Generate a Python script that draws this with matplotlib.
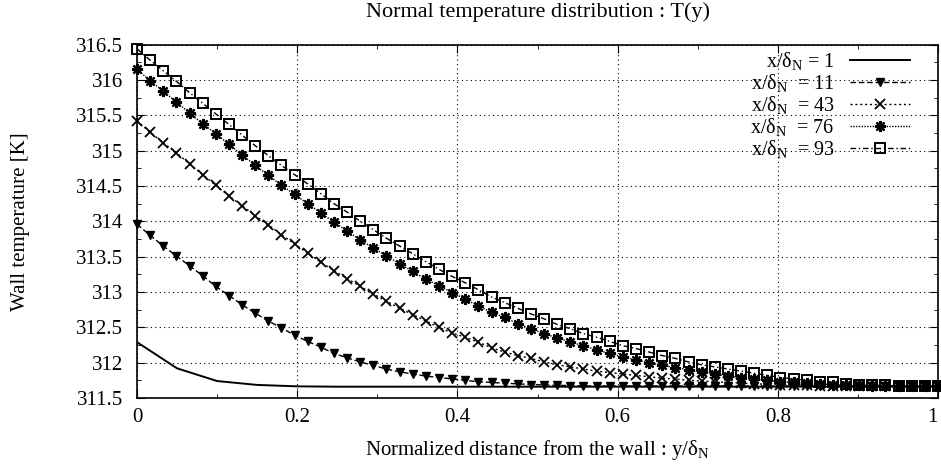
import numpy as np
import matplotlib
matplotlib.use("Agg")
import matplotlib.pyplot as plt
from matplotlib.ticker import FixedLocator, MultipleLocator, FuncFormatter

plt.rcParams['font.family'] = ['Liberation Serif', 'DejaVu Serif']
plt.rcParams['mathtext.fontset'] = 'custom'
plt.rcParams['mathtext.rm'] = 'Liberation Serif'
plt.rcParams['mathtext.it'] = 'Liberation Serif:italic'

# ---- data ----
y_fine = np.linspace(0, 1, 62)
y_coarse = np.linspace(0, 1, 21)

T_1 = [312.29, 311.92, 311.74, 311.685, 311.665, 311.66, 311.66, 311.66, 311.66, 311.66,
       311.66, 311.66, 311.66, 311.66, 311.66, 311.66, 311.66, 311.66, 311.66, 311.66, 311.66]

T_11 = [313.96, 313.80, 313.65, 313.51, 313.37, 313.23, 313.08, 312.95, 312.82, 312.70,
        312.59, 312.49, 312.39, 312.30, 312.22, 312.13, 312.07, 312.01, 311.96, 311.91,
        311.87, 311.84, 311.81, 311.79, 311.77, 311.75, 311.73, 311.72, 311.71, 311.70,
        311.69, 311.685, 311.68, 311.675, 311.67, 311.67, 311.67, 311.67, 311.67, 311.67,
        311.67, 311.67, 311.67, 311.67, 311.67, 311.67, 311.67, 311.67, 311.67, 311.67,
        311.67, 311.67, 311.665, 311.665, 311.665, 311.665, 311.665, 311.665, 311.665, 311.665,
        311.665, 311.665]

T_43 = [315.42, 315.26, 315.11, 314.97, 314.81, 314.66, 314.51, 314.36, 314.22, 314.08,
        313.95, 313.81, 313.68, 313.55, 313.42, 313.30, 313.19, 313.08, 312.97, 312.87,
        312.77, 312.68, 312.59, 312.50, 312.42, 312.36, 312.29, 312.21, 312.15, 312.10,
        312.06, 312.01, 311.97, 311.94, 311.91, 311.88, 311.86, 311.84, 311.82, 311.80,
        311.78, 311.77, 311.75, 311.74, 311.73, 311.72, 311.71, 311.70, 311.695, 311.69,
        311.685, 311.68, 311.675, 311.675, 311.67, 311.67, 311.67, 311.67, 311.67, 311.67,
        311.665, 311.665]

T_76 = [316.15, 315.99, 315.84, 315.69, 315.53, 315.38, 315.24, 315.09, 314.94, 314.79,
        314.65, 314.51, 314.38, 314.25, 314.12, 313.99, 313.86, 313.74, 313.62, 313.51,
        313.40, 313.29, 313.18, 313.09, 312.99, 312.90, 312.80, 312.71, 312.64, 312.55,
        312.48, 312.41, 312.35, 312.29, 312.24, 312.18, 312.13, 312.08, 312.04, 312.00,
        311.96, 311.93, 311.90, 311.87, 311.84, 311.81, 311.79, 311.77, 311.75, 311.73,
        311.72, 311.71, 311.70, 311.69, 311.685, 311.68, 311.675, 311.67, 311.67, 311.67,
        311.665, 311.665]

T_93 = [316.44, 316.28, 316.13, 315.98, 315.82, 315.67, 315.52, 315.37, 315.22, 315.07,
        314.93, 314.79, 314.66, 314.53, 314.39, 314.25, 314.13, 314.00, 313.88, 313.76,
        313.65, 313.54, 313.43, 313.32, 313.22, 313.13, 313.03, 312.93, 312.85, 312.77,
        312.69, 312.62, 312.54, 312.48, 312.41, 312.36, 312.30, 312.24, 312.20, 312.15,
        312.10, 312.06, 312.01, 311.97, 311.94, 311.91, 311.88, 311.85, 311.82, 311.79,
        311.77, 311.75, 311.73, 311.72, 311.70, 311.69, 311.68, 311.68, 311.67, 311.67,
        311.67, 311.67]

labels = [r'x/δ$_{\mathrm{N}}$ = 1', r'x/δ$_{\mathrm{N}}$  = 11', r'x/δ$_{\mathrm{N}}$  = 43',
          r'x/δ$_{\mathrm{N}}$  = 76', r'x/δ$_{\mathrm{N}}$  = 93']
x_ticks = [0, 0.2, 0.4, 0.6, 0.8, 1]
x_tick_labels = ['0', '0.2', '0.4', '0.6', '0.8', '1']

W, H = 941, 471
fig = plt.figure(figsize=(W / 100, H / 100), dpi=100)
ax = fig.add_axes([137 / W, 1 - 398 / H, (938 - 137) / W, (398 - 44.6) / H])

lw = 1.0
ax.plot(y_coarse, T_1, color='black', lw=1.4, ls='-', label=labels[0])
ax.plot(y_fine, T_11, color='black', lw=lw, ls=(0, (4, 2)), marker='v', ms=5.5,
        mfc='black', mec='black', label=labels[1], clip_on=False)
ax.plot(y_fine, T_43, color='black', lw=lw, ls=(0, (1.5, 2)), marker='x', ms=7,
        mew=1.3, label=labels[2], clip_on=False)
ax.plot(y_fine, T_76, color='black', lw=lw, ls=(0, (1, 1)), marker=(8, 2, 0), ms=8,
        mew=1.6, label=labels[3], clip_on=False)
ax.plot(y_fine, T_93, color='black', lw=lw, ls=(0, (4, 2, 1, 2)), marker='s', ms=6.5,
        mfc='none', mec='black', mew=1.4, label=labels[4], clip_on=False)

ax.set_xlim(0, 1)
ax.set_ylim(311.5, 316.5)
ax.set_xticks(x_ticks)
ax.set_xticklabels(x_tick_labels)
ax.xaxis.set_minor_locator(MultipleLocator(0.1))
ax.yaxis.set_major_locator(MultipleLocator(0.5))
ax.yaxis.set_minor_locator(MultipleLocator(0.25))
ax.yaxis.set_major_formatter(FuncFormatter(lambda v, p: '%g' % round(v, 6)))
ax.tick_params(which='both', direction='in', top=True, right=True, labelsize=15)
ax.tick_params(which='major', length=6)
ax.tick_params(which='minor', length=3)
ax.tick_params(axis='x', pad=7)
ax.tick_params(axis='y', pad=10)
ax.grid(True, which='major', color='black', ls=(0, (1, 3)), lw=0.8)
for s in ax.spines.values():
    s.set_linewidth(1.2)
for t in ax.get_xticklabels():
    if t.get_text() == '1':
        t.set_horizontalalignment('right')
        t.set_x(1.0)

fig.text((137 + 938) / 2 / W, 1 - 12 / H, 'Normal temperature distribution : T(y)',
         fontsize=16, ha='center', va='center')
ax.set_xlabel(r'Normalized distance from the wall : y/δ$_{\mathrm{N}}$', fontsize=15,
              labelpad=8)
ax.set_ylabel('Wall temperature [K]', fontsize=15)
ax.yaxis.set_label_coords(-0.133, 0.5)

leg = ax.legend(loc='upper right', bbox_to_anchor=((910 - 137) / 801, 1 - (50 - 44.6) / 353.4),
                frameon=False, markerfirst=False, fontsize=14.5,
                handlelength=3.0, labelspacing=0.0, borderaxespad=0.0,
                handletextpad=0.75, borderpad=0.0)

fig.savefig('out.png', dpi=100)
